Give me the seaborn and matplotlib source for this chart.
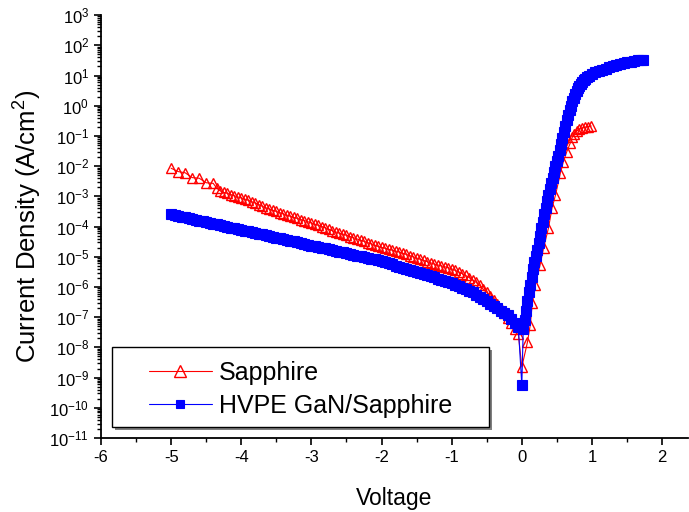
"""
I-V curves (current density vs voltage) for LEDs grown on sapphire and on
HVPE GaN/sapphire templates, drawn on a log scale.
"""

import numpy as np
import matplotlib
matplotlib.use('Agg')
import matplotlib.pyplot as plt
import matplotlib.ticker as mticker
from matplotlib.patches import Rectangle
import seaborn as sns

# Sapphire series: voltage (V) and log10 of current density (A/cm^2)
sapphire_v = [
    -5.00, -4.90, -4.80, -4.70, -4.60, -4.50, -4.40, -4.35,
    -4.30, -4.25, -4.20, -4.15, -4.10, -4.05, -4.00, -3.95, -3.90, -3.85,
    -3.80, -3.75, -3.70, -3.65, -3.60, -3.55, -3.50, -3.45, -3.40, -3.35,
    -3.30, -3.25, -3.20, -3.15, -3.10, -3.05, -3.00, -2.95, -2.90, -2.85,
    -2.80, -2.75, -2.70, -2.65, -2.60, -2.55, -2.50, -2.45, -2.40, -2.35,
    -2.30, -2.25, -2.20, -2.15, -2.10, -2.05, -2.00, -1.95, -1.90, -1.85,
    -1.80, -1.75, -1.70, -1.65, -1.60, -1.55, -1.50, -1.45, -1.40, -1.35,
    -1.30, -1.25, -1.20, -1.15, -1.10, -1.05, -1.00, -0.95, -0.90, -0.85,
    -0.80, -0.75, -0.70, -0.65, -0.60, -0.55, -0.50, -0.45, -0.40, -0.35,
    -0.30, -0.25, -0.20, -0.15, -0.10, -0.05, 0.00,
    0.08, 0.12, 0.15, 0.19, 0.26, 0.31, 0.38, 0.43, 0.48, 0.55, 0.59,
    0.64, 0.69, 0.72, 0.75, 0.78, 0.82, 0.86, 0.90, 0.94, 0.99,
]
sapphire_logj = [
    -2.07, -2.18, -2.22, -2.38, -2.40, -2.55, -2.57, -2.73,
    -2.82, -2.87, -2.90, -2.94, -2.98, -3.02, -3.05, -3.09, -3.13, -3.18,
    -3.22, -3.27, -3.33, -3.38, -3.42, -3.46, -3.50, -3.54, -3.58, -3.62,
    -3.66, -3.70, -3.73, -3.77, -3.80, -3.84, -3.88, -3.92, -3.96, -4.00,
    -4.04, -4.09, -4.14, -4.18, -4.22, -4.25, -4.29, -4.33, -4.37, -4.41,
    -4.45, -4.49, -4.53, -4.57, -4.61, -4.66, -4.69, -4.72, -4.75, -4.78,
    -4.81, -4.84, -4.88, -4.92, -4.96, -5.00, -5.04, -5.08, -5.12, -5.16,
    -5.20, -5.24, -5.27, -5.30, -5.33, -5.36, -5.40, -5.45, -5.50, -5.56,
    -5.62, -5.69, -5.77, -5.85, -5.95, -6.08, -6.18, -6.30, -6.42, -6.55,
    -6.68, -6.85, -7.02, -7.20, -7.38, -7.55, -8.65,
    -7.83, -7.26, -6.53, -5.94, -5.28, -4.71, -4.05, -3.39, -2.96, -2.23, -1.87,
    -1.53, -1.24, -1.04, -0.92, -0.84, -0.78, -0.74, -0.71, -0.69, -0.67,
]

# HVPE GaN/Sapphire series: voltage (V) and log10 of current density (A/cm^2)
hvpe_v = [
    -5.00, -4.95, -4.90, -4.85, -4.80, -4.75, -4.70, -4.65, -4.60, -4.55,
    -4.50, -4.45, -4.40, -4.35, -4.30, -4.25, -4.20, -4.15, -4.10, -4.05,
    -4.00, -3.95, -3.90, -3.85, -3.80, -3.75, -3.70, -3.65, -3.60, -3.55,
    -3.50, -3.45, -3.40, -3.35, -3.30, -3.25, -3.20, -3.15, -3.10, -3.05,
    -3.00, -2.95, -2.90, -2.85, -2.80, -2.75, -2.70, -2.65, -2.60, -2.55,
    -2.50, -2.45, -2.40, -2.35, -2.30, -2.25, -2.20, -2.15, -2.10, -2.05,
    -2.00, -1.95, -1.90, -1.85, -1.80, -1.75, -1.70, -1.65, -1.60, -1.55,
    -1.50, -1.45, -1.40, -1.35, -1.30, -1.25, -1.20, -1.15, -1.10, -1.05,
    -1.00, -0.95, -0.90, -0.85, -0.80, -0.75, -0.70, -0.65, -0.60, -0.55,
    -0.50, -0.45, -0.40, -0.35, -0.30, -0.25, -0.20, -0.15, -0.10, -0.05,
    0.00,
    0.02, 0.04, 0.06, 0.08, 0.10, 0.12, 0.14, 0.16, 0.18, 0.20,
    0.22, 0.24, 0.26, 0.28, 0.30, 0.32, 0.34, 0.36, 0.38, 0.40,
    0.42, 0.44, 0.46, 0.48, 0.50, 0.52, 0.54, 0.56, 0.58, 0.60,
    0.62, 0.64, 0.66, 0.68, 0.70, 0.72, 0.74, 0.76, 0.78, 0.80,
    0.82, 0.84, 0.86, 0.88, 0.90, 0.93, 0.96, 1.00, 1.05, 1.10,
    1.15, 1.20, 1.25, 1.30, 1.35, 1.40, 1.45, 1.50, 1.55, 1.60,
    1.65, 1.70, 1.73,
]
hvpe_logj = [
    -3.60, -3.63, -3.65, -3.68, -3.70, -3.73, -3.75, -3.78, -3.80, -3.83,
    -3.85, -3.88, -3.90, -3.93, -3.96, -3.98, -4.01, -4.04, -4.06, -4.09,
    -4.12, -4.14, -4.16, -4.19, -4.21, -4.24, -4.26, -4.29, -4.31, -4.34,
    -4.37, -4.39, -4.42, -4.44, -4.47, -4.49, -4.52, -4.55, -4.57, -4.60,
    -4.63, -4.65, -4.67, -4.70, -4.72, -4.75, -4.78, -4.80, -4.83, -4.85,
    -4.88, -4.90, -4.93, -4.96, -4.98, -5.01, -5.04, -5.06, -5.09, -5.11,
    -5.15, -5.18, -5.21, -5.25, -5.29, -5.33, -5.36, -5.40, -5.43, -5.47,
    -5.50, -5.54, -5.58, -5.61, -5.65, -5.68, -5.72, -5.76, -5.80, -5.84,
    -5.88, -5.92, -5.97, -6.02, -6.07, -6.13, -6.18, -6.25, -6.32, -6.40,
    -6.48, -6.56, -6.63, -6.70, -6.78, -6.86, -6.94, -7.05, -7.18, -7.32,
    -9.25,
    -7.40, -7.10, -6.78, -6.45, -6.18, -5.92, -5.66, -5.42, -5.18, -4.96,
    -4.76, -4.54, -4.30, -4.06, -3.84, -3.60, -3.38, -3.16, -2.96, -2.76,
    -2.56, -2.38, -2.20, -2.01, -1.83, -1.65, -1.47, -1.28, -1.08, -0.88,
    -0.68, -0.48, -0.30, -0.14, 0.00, 0.14, 0.26, 0.38, 0.49, 0.58,
    0.66, 0.73, 0.79, 0.84, 0.89, 0.95, 1.00, 1.05, 1.10, 1.15,
    1.19, 1.23, 1.27, 1.31, 1.35, 1.38, 1.41, 1.44, 1.46, 1.48,
    1.50, 1.51, 1.51,
]

x_ticks = [-6, -5, -4, -3, -2, -1, 0, 1, 2]


def main():
    sns.set_theme(style='ticks')
    plt.rcParams['font.family'] = ['Liberation Sans', 'DejaVu Sans']
    plt.rcParams['mathtext.fontset'] = 'custom'
    plt.rcParams['mathtext.rm'] = 'Liberation Sans'
    plt.rcParams['mathtext.it'] = 'Liberation Sans:italic'
    plt.rcParams['axes.unicode_minus'] = False
    plt.rcParams['text.color'] = 'black'
    plt.rcParams['axes.labelcolor'] = 'black'

    fig = plt.figure(figsize=(6.89, 5.12), dpi=100)
    ax = fig.add_axes([0.1466, 0.1445, 0.852, 0.826])

    sapphire_j = 10 ** np.array(sapphire_logj)
    hvpe_j = 10 ** np.array(hvpe_logj)

    sns.lineplot(x=sapphire_v, y=sapphire_j, ax=ax, sort=False, estimator=None,
                 color='#ff0000', linewidth=0.8, marker='^', markersize=7.5,
                 markerfacecolor='none', markeredgecolor='#ff0000',
                 markeredgewidth=1.0, label='Sapphire')
    sns.lineplot(x=hvpe_v, y=hvpe_j, ax=ax, sort=False, estimator=None,
                 color='#0000ff', linewidth=0.8, marker='s', markersize=7.5,
                 markerfacecolor='#0000ff', markeredgecolor='#0000ff',
                 markeredgewidth=0.8, label='HVPE GaN/Sapphire')

    ax.set_yscale('log')
    ax.set_xlim(-6, 2.37)
    ax.set_ylim(1e-11, 1e3)
    ax.set_xticks(x_ticks)
    ax.xaxis.set_minor_locator(mticker.MultipleLocator(0.5))
    ax.yaxis.set_major_locator(mticker.LogLocator(base=10, numticks=20))
    ax.yaxis.set_minor_locator(mticker.LogLocator(base=10, subs=np.arange(2, 10), numticks=20))
    ax.yaxis.set_minor_formatter(mticker.NullFormatter())

    for side in ['top', 'right']:
        ax.spines[side].set_visible(False)
    for side in ['left', 'bottom']:
        ax.spines[side].set_linewidth(1.3)
        ax.spines[side].set_color('black')
    ax.tick_params(which='major', direction='out', length=5, width=1.2,
                   labelsize=12, colors='black')
    ax.tick_params(which='minor', direction='out', length=3, width=1.0, colors='black')

    ax.set_xlabel('Voltage', fontsize=16.5, labelpad=16, color='black')
    ax.set_ylabel('Current Density (A/cm$^2$)', fontsize=18.5, labelpad=4, color='black')

    # Legend box with a grey drop shadow, drawn as patches
    ax.add_patch(Rectangle((0.023, 0.018), 0.643, 0.189, transform=ax.transAxes,
                           facecolor='#808080', edgecolor='none', zorder=4, clip_on=False))
    ax.add_patch(Rectangle((0.0187, 0.026), 0.643, 0.189, transform=ax.transAxes,
                           facecolor='white', edgecolor='black', linewidth=1.0,
                           zorder=5, clip_on=False))
    leg = ax.legend(loc='upper left', bbox_to_anchor=(0.082, 0.183), frameon=False,
                    fontsize=18, handlelength=2.5, handletextpad=0.3,
                    labelspacing=0.37, borderpad=0, borderaxespad=0)
    leg.set_zorder(6)
    for text in leg.get_texts():
        text.set_color('black')
    leg.legend_handles[0].set_markersize(8)
    leg.legend_handles[1].set_markersize(5.5)

    fig.savefig('out.png', dpi=100)


if __name__ == '__main__':
    main()
